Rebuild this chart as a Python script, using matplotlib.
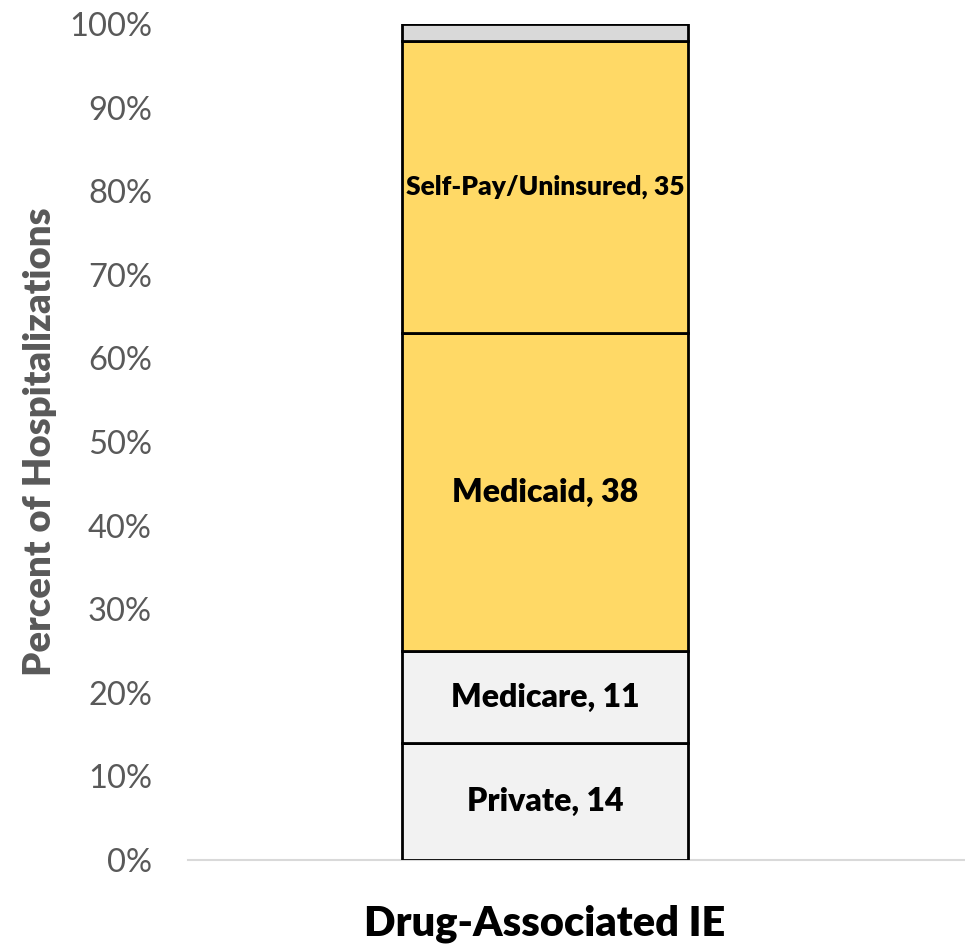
import matplotlib
matplotlib.use("Agg")
import matplotlib.pyplot as plt
from matplotlib.ticker import FuncFormatter

plt.rcParams['font.family'] = ['Lato', 'DejaVu Sans']

# ── Data ────────────────────────────────────────────────────────────────────
category = "Drug-Associated IE"
payers = ["Private", "Medicare", "Medicaid", "Self-Pay/Uninsured", "Other"]
shares = [14, 11, 38, 35, 2]
colors = ["#F2F2F2", "#F2F2F2", "#FFD966", "#FFD966", "#D9D9D9"]
show_label = [True, True, True, True, False]
label_sizes = [23, 23, 23, 19, 0]

# ── Figure ──────────────────────────────────────────────────────────────────
fig = plt.figure(figsize=(9.65, 9.46), dpi=100)
ax = fig.add_axes([188 / 965, 86 / 946, 777 / 965, 836 / 946])

bottom = 0
for name, val, col, show, fs in zip(payers, shares, colors, show_label, label_sizes):
    ax.bar(0, val, width=1.0, bottom=bottom, color=col,
           edgecolor="black", linewidth=2, zorder=3)
    if show:
        ax.text(0, bottom + val / 2, f"{name}, {val}", ha="center", va="center",
                fontsize=fs, fontweight="heavy", color="black", zorder=4)
    bottom += val

# ── Styling ────────────────────────────────────────────────────────────────
ax.set_xlim(-1.248, 1.469)
ax.set_ylim(0, 100)
ax.set_yticks(range(0, 101, 10))
ax.yaxis.set_major_formatter(FuncFormatter(lambda v, p: f"{v:.0f}%"))
ax.tick_params(axis="y", length=0, pad=26, labelsize=23.5, labelcolor="#595959")
ax.set_xticks([0])
ax.set_xticklabels([category])
ax.tick_params(axis="x", length=0, pad=32, labelsize=30)
for lbl in ax.get_xticklabels():
    lbl.set_fontweight("heavy")

for side in ["top", "right", "left"]:
    ax.spines[side].set_visible(False)
ax.spines["bottom"].set_color("#D9D9D9")
ax.spines["bottom"].set_linewidth(1.5)

ax.set_ylabel("Percent of Hospitalizations", fontsize=27.5, fontweight="heavy",
              color="#595959")
ax.yaxis.set_label_coords(-0.168, 0.5)

fig.savefig("out.png", dpi=100)
